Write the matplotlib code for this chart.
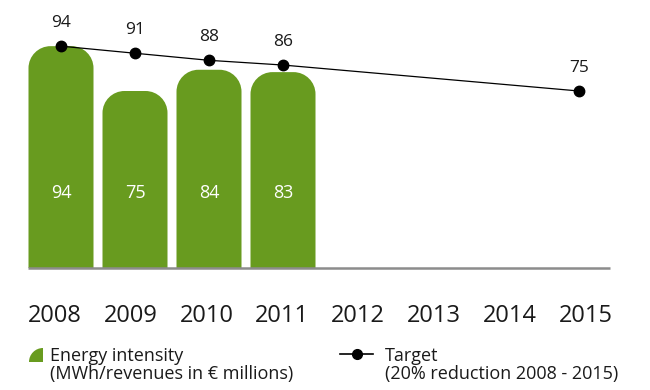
import matplotlib
matplotlib.use("Agg")
import matplotlib.pyplot as plt
from matplotlib.path import Path
from matplotlib.patches import PathPatch

plt.rcParams["font.family"] = ["Open Sans", "DejaVu Sans"]

# ---- data -------------------------------------------------------------
years = ["2008", "2009", "2010", "2011", "2012", "2013", "2014", "2015"]
intensity_years = ["2008", "2009", "2010", "2011"]
intensity = [94, 75, 84, 83]
target_years = ["2008", "2009", "2010", "2011", "2015"]
target = [94, 91, 88, 86, 75]

GREEN = "#689b1f"
TEXT = "#1a1a1a"

# ---- canvas / scales ----------------------------------------------------
W, H = 650, 390
STEP = 74.0          # pixels per year slot
X0 = 61.0            # pixel x of first slot
BASE = 268.0         # pixel y of the zero line
UNIT = 2.36          # pixels per value unit

fig = plt.figure(figsize=(W / 100, H / 100), dpi=100)
ax = fig.add_axes([0, 0, 1, 1])
ax.set_xlim(-X0 / STEP, (W - X0) / STEP)
ax.set_ylim(-(H - BASE) / UNIT, BASE / UNIT)
ax.axis("off")


def px_x(px):
    return (px - X0) / STEP


def px_y(py):
    return (BASE - py) / UNIT


pos = {y: i for i, y in enumerate(years)}
K = 0.5523


def rounded_bar(c, w, h, r_px=22):
    rx, ry = r_px / STEP, r_px / UNIT
    x0, x1 = c - w / 2, c + w / 2
    verts = [
        (x0, 0), (x0, h - ry),
        (x0, h - ry + K * ry), (x0 + rx - K * rx, h), (x0 + rx, h),
        (x1 - rx, h),
        (x1 - rx + K * rx, h), (x1, h - ry + K * ry), (x1, h - ry),
        (x1, 0), (x0, 0),
    ]
    codes = [Path.MOVETO, Path.LINETO,
             Path.CURVE4, Path.CURVE4, Path.CURVE4,
             Path.LINETO,
             Path.CURVE4, Path.CURVE4, Path.CURVE4,
             Path.LINETO, Path.CLOSEPOLY]
    return PathPatch(Path(verts, codes), facecolor=GREEN, edgecolor="none", zorder=2)


# bars
bar_w = 65 / STEP
for yr, v in zip(intensity_years, intensity):
    c = pos[yr]
    ax.add_patch(rounded_bar(c, bar_w, v))
    ax.text(c, px_y(198), str(v), color="white", fontsize=13,
            ha="center", va="baseline", zorder=4)

# baseline
ax.plot([px_x(28), px_x(610)], [0, 0], color="#8c8c8c", lw=1.8, zorder=3,
        solid_capstyle="butt")

# target line
tx = [pos[y] for y in target_years]
ax.plot(tx, target, color="black", lw=0.9, marker="o", markersize=7.5, zorder=5)
for x, v in zip(tx, target):
    ax.text(x, v + 19 / UNIT, str(v), color=TEXT, fontsize=12.5,
            ha="center", va="baseline", zorder=5)

# year labels
LAB_X0, LAB_STEP = 55.0, 75.8
for i, yr in enumerate(years):
    ax.text(px_x(LAB_X0 + LAB_STEP * i), px_y(322), yr, color=TEXT,
            fontsize=17, ha="center", va="baseline")

# legend: energy intensity
cx, cy, r = 43, 362, 14
qv = [(px_x(cx), px_y(cy)), (px_x(cx - r), px_y(cy)),
      (px_x(cx - r), px_y(cy - K * r)), (px_x(cx - K * r), px_y(cy - r)),
      (px_x(cx), px_y(cy - r)), (px_x(cx), px_y(cy))]
qc = [Path.MOVETO, Path.LINETO, Path.CURVE4, Path.CURVE4, Path.CURVE4, Path.CLOSEPOLY]
ax.add_patch(PathPatch(Path(qv, qc), facecolor=GREEN, edgecolor="none"))
ax.text(px_x(50), px_y(361), "Energy intensity", color=TEXT, fontsize=13,
        ha="left", va="baseline")
ax.text(px_x(50), px_y(379.5), "(MWh/revenues in € millions)", color=TEXT,
        fontsize=13, ha="left", va="baseline")

# legend: target
ax.plot([px_x(340), px_x(373)], [px_y(354)] * 2, color="black", lw=1.2)
ax.plot([px_x(357)], [px_y(354)], "o", color="black", markersize=7)
ax.text(px_x(385), px_y(361), "Target", color=TEXT, fontsize=13,
        ha="left", va="baseline")
ax.text(px_x(385), px_y(379.5), "(20% reduction 2008 - 2015)", color=TEXT,
        fontsize=13, ha="left", va="baseline")

fig.savefig("out.png", dpi=100)
